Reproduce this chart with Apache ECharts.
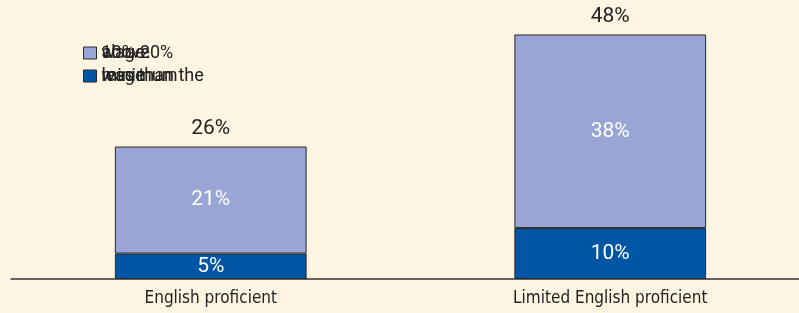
<!DOCTYPE html>
<html>
<head>
<meta charset="utf-8">
<script src="https://cdn.jsdelivr.net/npm/echarts@6/dist/echarts.min.js"></script>
<style>
  html, body { margin: 0; padding: 0; background: #fdf4e1; }
  #chart-container { width: 799px; height: 313px; }
</style>
</head>
<body>
<div id="chart-container"></div>
<script>
var categories = ['English proficient', 'Limited English proficient'];
var belowMinimum = [5, 10];
var tenToTwenty = [21, 38];
var legendNames = ['10%-20%\nabove\nwage', 'less than the\nminimum\nwage'];

var dom = document.getElementById('chart-container');
var myChart = echarts.init(dom, null, { renderer: 'canvas' });

var option = {
  backgroundColor: '#fdf4e1',
  animation: false,
  legend: {
    orient: 'vertical',
    left: 83,
    top: 44,
    padding: 0,
    icon: 'rect',
    itemWidth: 13,
    itemHeight: 12,
    itemGap: 5,
    data: [legendNames[0], legendNames[1]],
    itemStyle: { borderColor: '#2a2a2a', borderWidth: 1 },
    textStyle: {
      fontFamily: 'Roboto, Arial, sans-serif',
      fontSize: 18,
      color: '#222',
      lineHeight: 0.01
    }
  },
  grid: { left: 11, width: 799, top: 9, bottom: 34, outerBoundsMode: 'none', containLabel: false },
  xAxis: {
    type: 'category',
    data: categories,
    axisLine: { lineStyle: { color: '#333', width: 1.5 } },
    axisTick: { show: false },
    axisLabel: {
      margin: 11,
      fontFamily: '"DejaVu Sans Condensed", "Liberation Sans Narrow", sans-serif',
      fontSize: 17,
      color: '#222'
    }
  },
  yAxis: {
    type: 'value',
    min: 0,
    max: 53,
    show: false,
    splitLine: { show: false }
  },
  series: [
    {
      name: legendNames[1],
      type: 'bar',
      stack: 'total',
      barWidth: '48%',
      data: belowMinimum,
      itemStyle: { color: '#0055a5', borderColor: '#2a2a2a', borderWidth: 1 },
      label: {
        show: true,
        position: 'inside',
        formatter: '{c}%',
        color: '#fff',
        fontFamily: 'Roboto, Arial, sans-serif',
        fontSize: 21
      }
    },
    {
      name: legendNames[0],
      type: 'bar',
      stack: 'total',
      barWidth: '48%',
      data: tenToTwenty,
      itemStyle: { color: '#99a6d5', borderColor: '#2a2a2a', borderWidth: 1 },
      label: {
        show: true,
        position: 'inside',
        formatter: '{c}%',
        color: '#fff',
        fontFamily: 'Roboto, Arial, sans-serif',
        fontSize: 21
      }
    },
    {
      name: 'total',
      type: 'bar',
      stack: 'total',
      barWidth: '48%',
      data: [0, 0],
      itemStyle: { color: 'transparent' },
      label: {
        show: true,
        position: 'top',
        distance: 7,
        formatter: function (p) {
          return belowMinimum[p.dataIndex] + tenToTwenty[p.dataIndex] + '%';
        },
        color: '#222',
        fontFamily: 'Roboto, Arial, sans-serif',
        fontSize: 21
      }
    }
  ]
};

myChart.setOption(option);
window.addEventListener('resize', myChart.resize);
</script>
</body>
</html>
